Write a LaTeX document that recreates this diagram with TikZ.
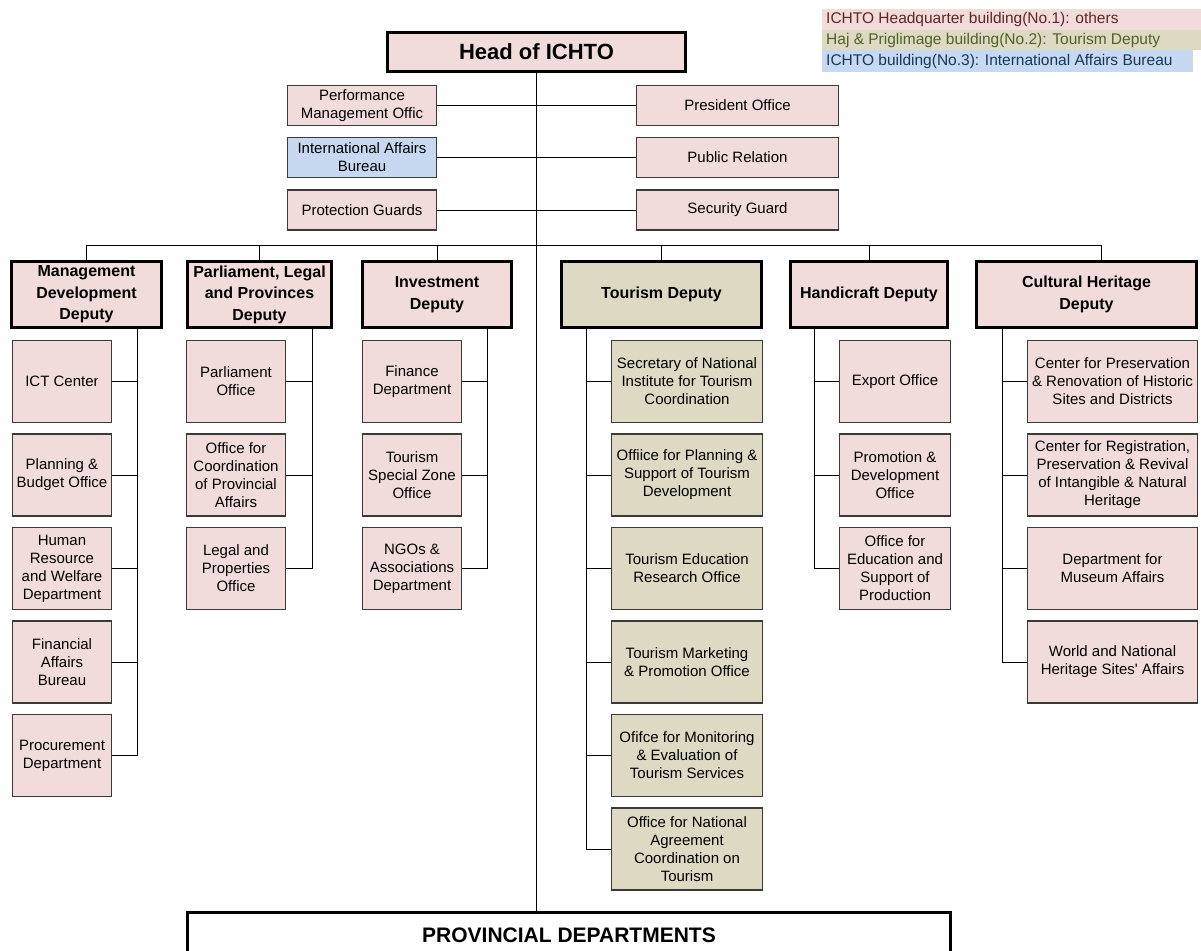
\documentclass[tikz,border=0pt]{standalone}
\usepackage{fontspec}
\setmainfont{Liberation Sans}
\definecolor{hqpink}{HTML}{F2DCDB}
\definecolor{hajtan}{HTML}{DDD9C3}
\definecolor{intblue}{HTML}{C6D9F1}
\definecolor{hqtext}{HTML}{632523}
\definecolor{hajtext}{HTML}{4F6228}
\definecolor{inttext}{HTML}{17375E}
\definecolor{boxline}{HTML}{3A3A3A}

\begin{document}
\begin{tikzpicture}[x=1pt,y=-1pt,
	unit/.style={draw=boxline,line width=1.2pt,fill=hqpink,align=center,inner sep=1.5pt,font=\fontsize{15}{18}\selectfont},
	sub/.style={unit,minimum height=82pt},
	staff/.style={unit,minimum height=40pt},
	deputy/.style={draw=black,line width=3pt,fill=hqpink,align=center,minimum height=66pt,inner sep=2pt,font=\bfseries\fontsize{16}{21.5}\selectfont},
	wire/.style={draw=black,line width=1pt},
	legend/.style={anchor=west,inner sep=0pt,font=\fontsize{15.5}{18}\selectfont}]
				\clip (0,0) rectangle (1201,950);
				\fill [white] (0,0) rectangle (1201,950);
				
				%legend
				\fill [hqpink] (822,9) rectangle (1201,30);
				\fill [hajtan] (822,30) rectangle (1201,50);
				\fill [intblue] (822,50) rectangle (1193,72);
				\node[legend,text=hqtext] (leghq) at (826,19.5) {ICHTO Headquarter building(No.1): others};
				\node[legend,text=hajtext] (leghaj) at (826,40) {Haj \& Priglimage building(No.2): Tourism Deputy};
				\node[legend,text=inttext] (legint) at (826,61) {ICHTO building(No.3): International Affairs Bureau};
				
				%head and staff offices
				\node[deputy,font=\bfseries\fontsize{22}{26}\selectfont,minimum width=298pt,minimum height=39pt] (head) at (536.5,52) {Head of ICHTO};
				\node[staff,minimum width=149pt] (perf) at (362,105.5) {Performance\\Management Offic};
				\node[staff,minimum width=149pt,fill=intblue] (intl) at (362,157.5) {International Affairs\\Bureau};
				\node[staff,minimum width=149pt] (prot) at (362,210) {Protection Guards};
				\node[staff,minimum width=202pt] (pres) at (737.5,105.5) {President Office};
				\node[staff,minimum width=202pt] (pubrel) at (737.5,157.5) {Public Relation};
				\node[staff,minimum width=202pt] (secur) at (737.5,210) {Security Guard};
				
				%deputies
				\node[deputy,minimum width=150pt] (mgmtdep) at (86.5,294.5) {Management\\Development\\Deputy};
				\node[deputy,minimum width=144pt] (parldep) at (259.5,294.5) {Parliament, Legal\\and Provinces\\Deputy};
				\node[deputy,minimum width=149pt] (invdep) at (437,294.5) {Investment\\Deputy};
				\node[deputy,minimum width=200pt,fill=hajtan] (tourdep) at (661.5,294.5) {Tourism Deputy};
				\node[deputy,minimum width=157pt] (handdep) at (869,294.5) {Handicraft Deputy};
				\node[deputy,minimum width=220pt] (cultdep) at (1086.5,294.5) {Cultural Heritage\\Deputy};
				
				%management development
				\node[sub,minimum width=99pt] (ict) at (62,381.5) {ICT Center};
				\node[sub,minimum width=99pt] (plan) at (62,475) {Planning \&\\Budget Office};
				\node[sub,minimum width=99pt] (human) at (62,568.5) {Human\\Resource\\and Welfare\\Department};
				\node[sub,minimum width=99pt] (finaff) at (62,662) {Financial\\Affairs\\Bureau};
				\node[sub,minimum width=99pt] (procure) at (62,755.5) {Procurement\\Department};
				
				%parliament, legal and provinces
				\node[sub,minimum width=99pt] (parloff) at (236,381.5) {Parliament\\Office};
				\node[sub,minimum width=99pt] (provaff) at (236,475) {Office for\\Coordination\\of Provincial\\Affairs};
				\node[sub,minimum width=99pt] (legal) at (236,568.5) {Legal and\\Properties\\Office};
				
				%investment
				\node[sub,minimum width=99pt] (finance) at (412,381.5) {Finance\\Department};
				\node[sub,minimum width=99pt] (tsz) at (412,475) {Tourism\\Special Zone\\Office};
				\node[sub,minimum width=99pt] (ngo) at (412,568.5) {NGOs \&\\Associations\\Department};
				
				%tourism
				\node[sub,minimum width=151pt,fill=hajtan] (secnat) at (687,381.5) {Secretary of National\\Institute for Tourism\\Coordination};
				\node[sub,minimum width=151pt,fill=hajtan] (planoff) at (687,475) {Offiice for Planning \&\\Support of Tourism\\Development};
				\node[sub,minimum width=151pt,fill=hajtan] (edures) at (687,568.5) {Tourism Education\\Research Office};
				\node[sub,minimum width=151pt,fill=hajtan] (market) at (687,662) {Tourism Marketing\\\& Promotion Office};
				\node[sub,minimum width=151pt,fill=hajtan] (monitor) at (687,755.5) {Ofifce for Monitoring\\\& Evaluation of\\Tourism Services};
				\node[sub,minimum width=151pt,fill=hajtan] (natagr) at (687,849) {Office for National\\Agreement\\Coordination on\\Tourism};
				
				%handicraft
				\node[sub,minimum width=111pt] (export) at (895,381.5) {Export Office};
				\node[sub,minimum width=111pt] (promo) at (895,475) {Promotion \&\\Development\\Office};
				\node[sub,minimum width=111pt] (eduprod) at (895,568.5) {Office for\\Education and\\Support of\\Production};
				
				%cultural heritage
				\node[sub,minimum width=170pt] (preserv) at (1112.5,381.5) {Center for Preservation\\\& Renovation of Historic\\Sites and Districts};
				\node[sub,minimum width=170pt] (regist) at (1112.5,475) {Center for Registration,\\Preservation \& Revival\\of Intangible \& Natural\\Heritage};
				\node[sub,minimum width=170pt] (museum) at (1112.5,568.5) {Department for\\Museum Affairs};
				\node[sub,minimum width=170pt] (worldher) at (1112.5,662) {World and National\\Heritage Sites\textquotesingle{} Affairs};
				
				\node[deputy,font=\bfseries\fontsize{21}{25}\selectfont,fill=white,minimum width=763pt,minimum height=46pt] (prov) at (569,935) {PROVINCIAL DEPARTMENTS};
				
				%lines
				\draw [wire] (head.south) -- (head.south |- prov.north);
				\draw [wire] (perf.east) -- (pres.west);
				\draw [wire] (intl.east) -- (pubrel.west);
				\draw [wire] (prot.east) -- (secur.west);
				\draw [wire] (mgmtdep.north) -- ++(0,-15) -| ([xshift=14.5pt]cultdep.north);
				\foreach \d in {parldep,invdep,tourdep,handdep}
					\draw [wire] (\d.north) -- ++(0,-15);
				
				\coordinate (mgmtsp) at (137,0);
				\coordinate (parlsp) at (312,0);
				\coordinate (invsp) at (487,0);
				\coordinate (toursp) at (586,0);
				\coordinate (handsp) at (814,0);
				\coordinate (cultsp) at (1002,0);
				
				\draw [wire] (mgmtdep.south -| mgmtsp) |- (procure.east);
				\foreach \b in {ict,plan,human,finaff}
					\draw [wire] (\b.east) -- (\b.east -| mgmtsp);
				\draw [wire] (parldep.south -| parlsp) |- (legal.east);
				\foreach \b in {parloff,provaff}
					\draw [wire] (\b.east) -- (\b.east -| parlsp);
				\draw [wire] (invdep.south -| invsp) |- (ngo.east);
				\foreach \b in {finance,tsz}
					\draw [wire] (\b.east) -- (\b.east -| invsp);
				\draw [wire] (tourdep.south -| toursp) |- (natagr.west);
				\foreach \b in {secnat,planoff,edures,market,monitor}
					\draw [wire] (\b.west) -- (\b.west -| toursp);
				\draw [wire] (handdep.south -| handsp) |- (eduprod.west);
				\foreach \b in {export,promo}
					\draw [wire] (\b.west) -- (\b.west -| handsp);
				\draw [wire] (cultdep.south -| cultsp) |- (worldher.west);
				\foreach \b in {preserv,regist,museum}
					\draw [wire] (\b.west) -- (\b.west -| cultsp);
			\end{tikzpicture}
\end{document}
